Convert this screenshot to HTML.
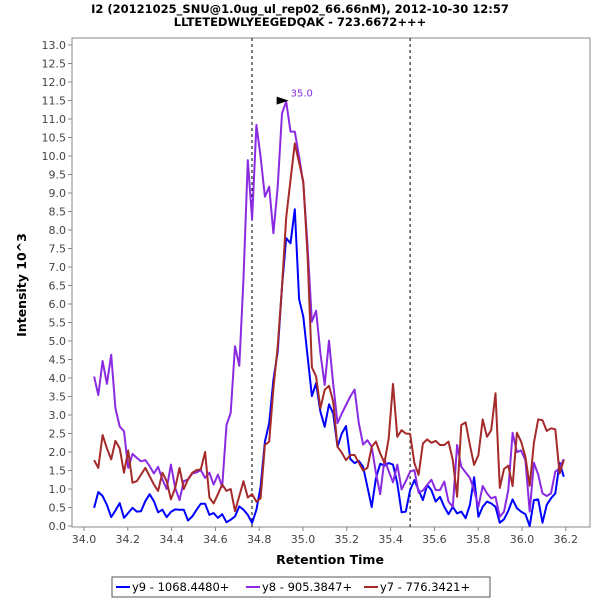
<!DOCTYPE html>
<html><head><meta charset="utf-8"><style>
body{margin:0;background:#fff;}
svg text{font-family:"DejaVu Sans","Liberation Sans",sans-serif;}
</style></head><body>
<svg id="chart" width="600" height="600" xmlns="http://www.w3.org/2000/svg">
<rect width="600" height="600" fill="#fff"/>
<text x="300" y="13" text-anchor="middle" font-size="11.5" font-weight="bold">I2 (20121025_SNU@1.0ug_ul_rep02_66.66nM), 2012-10-30 12:57</text>
<text x="300" y="26" text-anchor="middle" font-size="11.5" font-weight="bold">LLTETEDWLYEEGEDQAK - 723.6672+++</text>
<g id="axes"></g>
<g id="series"></g>
<text x="330" y="564" text-anchor="middle" font-size="12.5" font-weight="bold">Retention Time</text>
<text transform="translate(26,285) rotate(-90)" text-anchor="middle" font-size="12.5" font-weight="bold">Intensity 10^3</text>
<g>
<rect x="112" y="577" width="378" height="20" fill="#fff" stroke="#555"/>
<line x1="116" y1="587" x2="130" y2="587" stroke="#0000ff" stroke-width="2"/>
<text x="132" y="591" font-size="11.5">y9 - 1068.4480+</text>
<line x1="246" y1="587" x2="260" y2="587" stroke="#8a2be2" stroke-width="2"/>
<text x="262" y="591" font-size="11.5">y8 - 905.3847+</text>
<line x1="364" y1="587" x2="378" y2="587" stroke="#a52a2a" stroke-width="2"/>
<text x="380" y="591" font-size="11.5">y7 - 776.3421+</text>
</g>
</svg>
<script>
const t0 = 34.046, dt = 0.0195;
const xTicks = ["34.0","34.2","34.4","34.6","34.8","35.0","35.2","35.4","35.6","35.8","36.0","36.2"];
const yTicks = ["0.0","0.5","1.0","1.5","2.0","2.5","3.0","3.5","4.0","4.5","5.0","5.5","6.0","6.5","7.0","7.5","8.0","8.5","9.0","9.5","10.0","10.5","11.0","11.5","12.0","12.5","13.0"];
const markers = [34.767, 35.489];
const y9 = [0.49,0.92,0.81,0.57,0.24,0.42,0.62,0.22,0.35,0.49,0.39,0.4,0.67,0.86,0.67,0.37,0.44,0.24,0.38,0.45,0.44,0.44,0.15,0.26,0.44,0.6,0.6,0.3,0.35,0.22,0.32,0.1,0.17,0.26,0.53,0.44,0.3,
0.08,0.44,1.06,2.28,2.78,3.95,4.71,6.47,7.78,7.64,8.56,6.13,5.66,4.58,3.51,3.86,3.09,2.68,3.29,3.04,2.14,2.5,2.7,1.81,1.7,1.76,1.6,1.06,0.51,1.29,1.68,1.63,1.7,1.66,1.15,0.37,0.39,
0.97,1.24,0.97,0.7,1.11,0.97,0.66,0.79,0.52,0.32,0.52,0.34,0.39,0.21,0.57,1.32,0.25,0.52,0.66,0.61,0.52,0.09,0.18,0.41,0.72,0.48,0.39,0.32,0.0,0.7,0.72,0.09,0.57,0.75,0.88,1.71,1.33];
const y8 = [4.04,3.54,4.46,3.84,4.63,3.19,2.69,2.56,1.57,1.95,1.84,1.75,1.78,1.62,1.42,1.6,1.26,1.0,1.66,1.03,0.7,1.21,1.26,1.42,1.45,1.51,1.3,1.44,1.12,1.39,1.06,2.73,3.06,4.86,4.33,6.69,9.89,8.29,10.84,
9.98,8.9,9.17,7.91,9.17,11.15,11.47,10.66,10.66,9.98,9.26,7.55,5.52,5.82,4.67,3.81,5.01,3.84,2.78,3.04,3.27,3.5,3.69,2.78,2.2,2.32,2.14,1.44,0.86,1.8,1.48,1.18,1.66,0.99,1.21,
1.47,1.51,0.9,0.96,1.11,1.25,0.97,0.97,1.2,0.66,0.52,2.19,1.6,1.45,1.3,0.97,0.52,1.08,0.88,0.75,0.79,0.25,0.39,0.97,2.52,2.0,2.04,1.78,0.39,1.71,1.39,0.88,0.81,0.88,1.47,1.56,1.81];
const y7 = [1.78,1.57,2.46,2.1,1.8,2.3,2.1,1.44,2.04,1.17,1.21,1.39,1.57,1.35,1.12,0.95,1.44,1.21,0.72,1.03,1.57,1.0,1.26,1.44,1.51,1.53,2.0,0.77,0.61,0.86,1.12,0.95,1.0,0.4,0.81,1.21,0.77,
0.86,0.66,0.75,2.19,2.28,3.72,4.85,6.47,8.34,9.35,10.34,9.82,9.31,7.28,4.29,4.04,3.18,3.68,3.79,3.36,2.14,1.98,1.78,1.92,1.92,1.71,1.5,1.57,2.14,2.28,1.96,1.71,2.37,3.84,2.41,2.59,2.5,
2.49,1.7,1.38,2.23,2.34,2.25,2.3,2.19,2.19,2.28,1.78,0.79,2.73,2.8,2.19,1.65,1.92,2.88,2.41,2.59,3.59,1.03,1.54,1.63,1.08,2.52,2.28,1.87,1.09,2.25,2.88,2.86,2.57,2.64,2.61,1.42,1.78];
const annotationTime = 34.98, annotationValue = 11.47, annotationText = "35.0";

const L=72,R=590,T=38,B=527;
function xs(t){return 84+(t-34)*219;}
function ys(v){return 526-v*37;}
const NS="http://www.w3.org/2000/svg";
const axes=document.getElementById('axes');
function mk(tag,attrs,parent){const e=document.createElementNS(NS,tag);for(const k in attrs)e.setAttribute(k,attrs[k]);parent.appendChild(e);return e;}
const frame=mk('rect',{x:L,y:T,width:R-L,height:B-T,fill:'#fff',stroke:'#888'},axes);


yTicks.forEach(s=>{const v=parseFloat(s);const y=ys(v);
 mk('line',{x1:L-4,y1:y,x2:L,y2:y,stroke:'#888'},axes);
 const tx=mk('text',{x:L-6,y:y+4,'text-anchor':'end','font-size':'11',fill:'#444'},axes);tx.textContent=s;
 
 });
xTicks.forEach(s=>{const x=xs(parseFloat(s));
 mk('line',{x1:x,y1:B,x2:x,y2:B+4,stroke:'#888'},axes);
 const tx=mk('text',{x:x,y:B+16,'text-anchor':'middle','font-size':'11',fill:'#444'},axes);tx.textContent=s;
 
 });
markers.forEach(m=>{const l=mk('line',{x1:xs(m),y1:T,x2:xs(m),y2:B,stroke:'#000','stroke-dasharray':'3,3'},axes);
 
 });
const sg=document.getElementById('series');
[[y9,'#0000ff','series-y9'],[y8,'#8a2be2','series-y8'],[y7,'#a52a2a','series-y7']].forEach(([d,c,n])=>{
 const pts=d.map((v,i)=>xs(t0+i*dt).toFixed(1)+','+ys(v).toFixed(1)).join(' ');
 const p=mk('polyline',{points:pts,fill:'none',stroke:c,'stroke-width':'2','stroke-linejoin':'round'},sg);
 
 });
const ax=xs(annotationTime), ay=ys(annotationValue);
const arr=mk('polygon',{points:`${ax-22},${ay-5} ${ax-10},${ay-1} ${ax-22},${ay+3}`,fill:'#000'},sg);


const at=mk('text',{x:ax-8,y:ay-5,'font-size':'10',fill:'#8a2be2'},sg);at.textContent=annotationText;


</script>
</body></html>
